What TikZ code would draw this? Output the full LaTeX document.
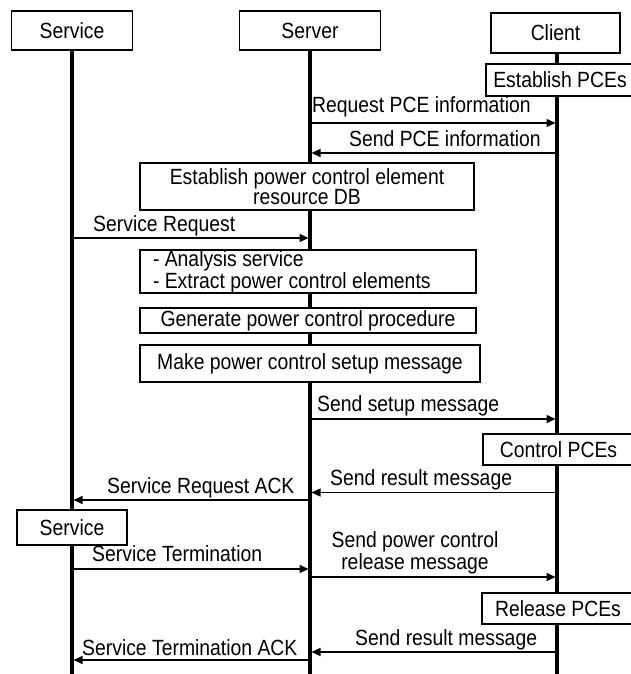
\documentclass[tikz,border=0pt]{standalone}
\usepackage{fontspec}
\setmainfont{Liberation Sans}[FakeStretch=0.88]
\usetikzlibrary{arrows.meta}
\begin{document}
\begin{tikzpicture}[x=1pt,y=-1pt,
  every node/.style={font=\fontsize{22}{20}\selectfont, inner sep=0pt},
  head/.style={draw, line width=1.8pt, fill=white},
  act/.style={draw, line width=1.7pt, fill=white},
  life/.style={line width=3.2pt},
  msg/.style={line width=1.5pt, -{Triangle[length=9pt,width=8pt]}, shorten >=1.5pt},
  lbl/.style={anchor=base west}]
\useasboundingbox (0,0) rectangle (630,674);

% headers
\node[head, minimum width=121pt, minimum height=39pt] (svc) at (72,30.5) {Service};
\node[head, minimum width=141pt, minimum height=39pt] (srv) at (310,30.5) {Server};
\node[head, minimum width=129pt, minimum height=40pt] (cli) at (555.5,33) {Client};

\coordinate (svcB) at (72,674);
\coordinate (srvB) at (310,674);
\coordinate (cliB) at (557,674);

% lifelines
\draw[life] (svc.south) -- (svcB);
\draw[life] (srv.south) -- (srvB);
\draw[life] (cli.south -| cliB) -- (cliB);

% client actions
\node[act, minimum width=148pt, minimum height=32pt] (estp) at (560,80) {Establish PCEs};
\node[act, minimum width=151pt, minimum height=31pt] (ctrl) at (558.5,449.5) {Control PCEs};
\node[act, minimum width=152pt, minimum height=31pt] (rel) at (558,608.5) {Release PCEs};

% server actions
\node[act, minimum width=334pt, minimum height=47pt, align=center] (db) at (307,186.5)
  {Establish power control element\\resource DB};
\node[act, minimum height=43pt, text width=310pt, inner xsep=13pt, align=flush left,
  font=\fontsize{22}{22}\selectfont] (ana) at (308,271.5)
  {- Analysis service\\- Extract power control elements};
\node[act, minimum width=336pt, minimum height=25pt] (gen) at (308,320.5) {Generate power control procedure};
\node[act, minimum width=340pt, minimum height=37pt] (make) at (310,363.5) {Make power control setup message};

% service action
\node[act, minimum width=110pt, minimum height=35pt] (svca) at (72,527.5) {Service};

% message end points
\coordinate (s1) at (310,123); \coordinate (c1) at (557,123);
\coordinate (c2) at (557,153); \coordinate (s2) at (310,153);
\coordinate (v3) at (72,238);  \coordinate (s3) at (310,238);
\coordinate (s4) at (310,419); \coordinate (c4) at (557,419);
\coordinate (c5) at (557,492.5); \coordinate (s5) at (310,492.5);
\coordinate (s6) at (310,500); \coordinate (v6) at (72,500);
\coordinate (v7) at (72,569);  \coordinate (s7) at (310,569);
\coordinate (s8) at (310,577); \coordinate (c8) at (557,577);
\coordinate (c9) at (557,652); \coordinate (s9) at (310,652);
\coordinate (s10) at (310,660); \coordinate (v10) at (72,660);

\draw[msg] (s1) -- (c1);
\draw[msg] (c2) -- (s2);
\draw[msg] (v3) -- (s3);
\draw[msg] (s4) -- (c4);
\draw[msg] (c5) -- (s5);
\draw[msg] (s6) -- (v6);
\draw[msg] (v7) -- (s7);
\draw[msg] (s8) -- (c8);
\draw[msg] (c9) -- (s9);
\draw[msg] (s10) -- (v10);

% labels
\node[lbl] (l1) at (312,113) {Request PCE information};
\node[lbl] (l2) at (349,146.5) {Send PCE information};
\node[lbl] (l3) at (93,231.5) {Service Request};
\node[lbl] (l4) at (317,411.5) {Send setup message};
\node[lbl] (l5) at (330,485) {Send result message};
\node[lbl] (l6) at (107,493) {Service Request ACK};
\node[lbl] (l7) at (92,561.5) {Service Termination};
\node[align=center, font=\fontsize{22}{18.5}\selectfont] (l8) at (415,553) {Send power control\\release message};
\node[lbl] (l9) at (355,645) {Send result message};
\node[lbl] (l10) at (82,655) {Service Termination ACK};
\end{tikzpicture}
\end{document}
